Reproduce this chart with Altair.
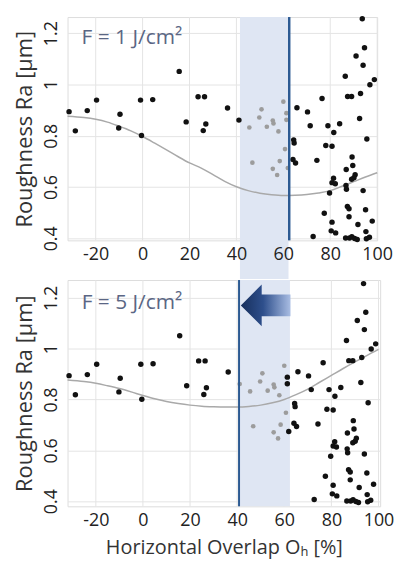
import altair as alt
import pandas as pd

# ---------------- data ----------------
pt_x = [-31.35, -28.68, -23.6, -19.63, -9.64, -10.19, -0.89, -0.47, 4.31, 15.6,
        23.65, 26.4, 26.95, 25.85, 18.57, 36.2, 41.07,
        45.5, 50.7, 49.75, 52.96, 55.5, 55.8, 57.9, 60.0, 61.3, 61.3, 60.7, 58.46,
        55.5, 57.36, 46.8, 61.9,
        65.8, 64.4, 64.6, 64.1, 65.2, 70.3, 71.45, 74.3, 76.5, 79.0, 81.5, 84.0,
        78.1, 80.75, 86.4, 87.4, 89.1, 91.0, 93.65, 94.6, 94.0, 92.9, 96.9, 98.8,
        92.5, 95.6, 89.3, 89.6, 86.8, 90.6, 89.1, 90.1, 81.4, 80.75, 82.15, 79.7,
        86.7, 86.9, 94.0, 77.45, 87.3, 88.0, 88.0, 95.05, 80.75, 91.8, 97.9, 80.4,
        82.3, 95.2, 72.7, 86.55, 88.2, 89.2, 90.4, 91.5, 95.4, 96.7]
pt_y = [0.894, 0.819, 0.898, 0.939, 0.884, 0.830, 0.939, 0.801, 0.941, 1.051,
        0.952, 0.952, 0.846, 0.820, 0.854, 0.908, 0.861,
        0.832, 0.903, 0.871, 0.835, 0.859, 0.848, 0.817, 0.933, 0.888, 0.862, 0.748, 0.701,
        0.671, 0.647, 0.695, 0.674,
        0.909, 0.784, 0.772, 0.707, 0.694, 0.893, 0.839, 0.704, 0.945, 0.839, 0.813, 0.847,
        0.762, 0.759, 1.032, 0.953, 0.953, 1.111, 1.256, 1.143, 1.075, 0.965, 0.999, 1.019,
        0.867, 0.787, 0.717, 0.684, 0.668, 0.648, 0.630, 0.636, 0.634, 0.617, 0.613, 0.577,
        0.606, 0.591, 0.586, 0.498, 0.524, 0.515, 0.484, 0.511, 0.463, 0.454, 0.467, 0.429,
        0.421, 0.426, 0.407, 0.401, 0.401, 0.406, 0.399, 0.395, 0.398, 0.404]

curve_x = [-32, -25, -20, -15, -10, -5, 0, 5, 10, 15, 20, 25, 30, 35, 40, 45,
           50, 55, 60, 65, 70, 75, 80, 85, 90, 95, 100]
curve_top = [0.876, 0.871, 0.864, 0.853, 0.837, 0.819, 0.797, 0.772, 0.746, 0.719,
             0.694, 0.674, 0.648, 0.622, 0.601, 0.586, 0.576, 0.570, 0.567, 0.568,
             0.571, 0.577, 0.586, 0.603, 0.621, 0.639, 0.656]
curve_bot = [0.877, 0.871, 0.864, 0.854, 0.843, 0.830, 0.816, 0.803, 0.792, 0.784,
             0.778, 0.774, 0.772, 0.771, 0.771, 0.773, 0.778, 0.787, 0.800, 0.819,
             0.841, 0.868, 0.895, 0.922, 0.948, 0.973, 0.997]

band_top = [41.5, 62.2]
band_bot = [40.8, 62.4]
gray_top = [41.5, 62.3]
gray_bot = [40.9, 61.0]
line_top = 62.5
line_bot = 40.8
label_top = "F = 1 J/cm²"
label_bot = "F = 5 J/cm²"
arrow_pos = [52.1, 1.17]

x_ticks = [-20, 0, 20, 40, 60, 80, 100]
y_ticks = [0.4, 0.6, 0.8, 1.0, 1.2]

# ---------------- style ----------------
FONT = "Open Sans"
BAND = "#dfe6f3"
LINE_BLUE = "#2c5a92"
GRID = "#e4e4e4"
TXT = "#5a6684"
W_TOP, H_TOP = 312, 225
W_BOT, H_BOT = 315, 228
GAP = 39

pts = pd.DataFrame({"x": pt_x, "y": pt_y})


def y_axis():
    return alt.Axis(values=y_ticks, grid=True, gridColor=GRID, ticks=False,
                    domain=False, labelAngle=270, labelAlign="center",
                    labelBaseline="bottom", labelPadding=7, labelFontSize=18,
                    labelFont=FONT, labelColor="#222222", labelFlush=False,
                    labelExpr="datum.value == 1 ? '1' : format(datum.value, '.1f')",
                    title="Roughness Ra [µm]", titleFont=FONT, titleFontSize=22,
                    titleFontWeight="normal", titleColor="#333333", titlePadding=6)


def panel(W, H, xdom, ydom, curve, band, gray, line_x, label, bottom, extend):
    xs = alt.Scale(domain=xdom, nice=False, zero=False)
    ys = alt.Scale(domain=ydom, nice=False, zero=False)

    x_axis = alt.Axis(values=x_ticks, grid=False, ticks=False, labelFlush=False,
                      domain=False, labelPadding=5, labelFontSize=18, labelFont=FONT,
                      labelColor="#222222", zindex=1,
                      labelExpr="datum.value < 0 ? '-' + abs(datum.value) : '' + datum.value",
                      title="Horizontal Overlap Oₕ [%]" if bottom else None,
                      titleFont=FONT, titleFontSize=20, titleFontWeight="normal",
                      titleColor="#333333", titlePadding=9)

    grid_df = pd.DataFrame({"x": x_ticks})
    grid_layer = alt.Chart(grid_df).mark_rule(color=GRID, strokeWidth=1).encode(
        x=alt.X("x:Q", scale=xs, axis=x_axis),
        y=alt.Y("y0:Q", scale=ys, axis=y_axis()),
        y2="y1:Q",
    ).transform_calculate(y0=str(ydom[0]), y1=str(ydom[1]))

    band_df = pd.DataFrame({"a": [band[0]], "b": [band[1]]})
    band_layer = alt.Chart(band_df).mark_rect(color=BAND, opacity=1).encode(
        x="a:Q",
        x2="b:Q",
        y=alt.value(0),
        y2=alt.value(H + extend),
    )

    cdf = pd.DataFrame({"x": curve_x, "y": curve})
    curve_layer = alt.Chart(cdf).mark_line(color="#a9a9a9", strokeWidth=1.5,
                                           interpolate="monotone").encode(
        x="x:Q", y="y:Q")

    pdf = pts.copy()
    pdf["g"] = ["gray" if gray[0] <= v <= gray[1] else "black" for v in pdf["x"]]
    black_layer = alt.Chart(pdf[pdf.g == "black"]).mark_circle(
        size=30, color="#111111", opacity=1).encode(x="x:Q", y="y:Q")
    gray_layer = alt.Chart(pdf[pdf.g == "gray"]).mark_circle(
        size=22, color="#9c9c9c", opacity=1).encode(x="x:Q", y="y:Q")

    rule_df = pd.DataFrame({"x": [line_x]})
    rule_layer = alt.Chart(rule_df).mark_rule(
        color=LINE_BLUE, strokeWidth=2.5 if not bottom else 2).encode(x="x:Q")

    tdf = pd.DataFrame({"x": [-26.0], "y": [1.18], "t": [label]})
    text_layer = alt.Chart(tdf).mark_text(align="left", baseline="middle",
                                          font=FONT, fontSize=21, color=TXT).encode(
        x="x:Q", y="y:Q", text="t:N")

    layers = [grid_layer, band_layer, curve_layer, gray_layer, black_layer,
              rule_layer, text_layer]
    if bottom:
        adf = pd.DataFrame({"x": [arrow_pos[0]], "y": [arrow_pos[1]]})
        grad = alt.Gradient(gradient="linear", x1=0, x2=1, y1=0, y2=0, stops=[
            alt.GradientStop(color="#172f5c", offset=0),
            alt.GradientStop(color="#2e4f8c", offset=0.45),
            alt.GradientStop(color="#a9bde3", offset=1)])
        arrow = alt.Chart(adf).mark_point(
            shape="M -1 0 L -0.16 -0.84 L -0.16 -0.44 L 1 -0.44 L 1 0.44 L -0.16 0.44 L -0.16 0.84 Z",
            size=2500, filled=True, fill=grad, strokeWidth=0, opacity=1).encode(
            x="x:Q", y="y:Q")
        layers.append(arrow)

    return alt.layer(*layers).properties(width=W, height=H)


top = panel(W_TOP, H_TOP, [-32, 100], [0.392, 1.263], curve_top, band_top, gray_top,
            line_top, label_top, False, GAP)
bot = panel(W_BOT, H_BOT, [-32, 100.7], [0.38, 1.27], curve_bot, band_bot, gray_bot,
            line_bot, label_bot, True, 0)

chart = alt.vconcat(top, bot, spacing=-5).properties(
    padding={"left": 5, "top": 5, "right": 5, "bottom": 0}
).configure_view(stroke="#9a9a9a", strokeWidth=1).configure(background="white")

chart.save("out.html", embed_options={"renderer": "svg", "actions": False})
